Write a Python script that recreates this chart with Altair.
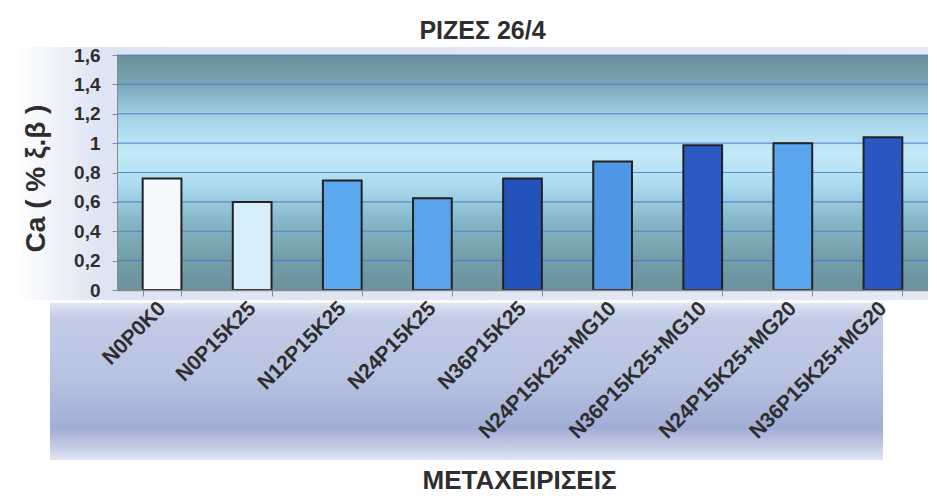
import altair as alt
import pandas as pd

categories = ["N0P0K0", "N0P15K25", "N12P15K25", "N24P15K25", "N36P15K25",
              "N24P15K25+MG10", "N36P15K25+MG10", "N24P15K25+MG20", "N36P15K25+MG20"]
values = [0.76, 0.60, 0.745, 0.625, 0.76, 0.875, 0.985, 1.00, 1.04]
bar_colors = ["#f4f8fc", "#d9eefb", "#5aa9ef", "#5aa2ec", "#2452bb",
              "#4f97e6", "#2c5ac4", "#5aa6ee", "#2a56c2"]
y_ticks = [0, 0.2, 0.4, 0.6, 0.8, 1.0, 1.2, 1.4, 1.6]
grid_values = [0.2, 0.4, 0.6, 0.8, 1.0, 1.2, 1.4, 1.6]

W, H = 811, 235
FONT = "Liberation Sans, Arial, sans-serif"
TXT = "#2e2e2e"

df = pd.DataFrame({"cat": categories, "val": values})
grid_df = pd.DataFrame({"v": grid_values})
one = alt.Data(values=[{"a": 1}])

y_scale = alt.Scale(domain=[0, 1.6], nice=False)
y_axis = alt.Axis(title="Ca ( % ξ.β )", values=y_ticks,
                  labelExpr="replace(format(datum.value, '.1~f'), '.', ',')",
                  labelFont=FONT, labelFontSize=19, labelFontWeight="bold",
                  labelColor=TXT, labelPadding=12, tickSize=5, tickColor="#8a8a8a",
                  domainColor="#8a8a8a", grid=False, zindex=1,
                  titleFont=FONT, titleFontSize=28, titleFontWeight="bold",
                  titleColor=TXT, titleAngle=-90, titleX=-73, titleY=123,
                  titleAlign="center", titleBaseline="alphabetic")

# soft decorative backdrop around the plot and behind the category labels
glow = alt.Chart(one).mark_rect(
    color=alt.LinearGradient(
        gradient="linear", x1=0, y1=0, x2=1, y2=0,
        stops=[alt.GradientStop(offset=0, color="#ffffff"),
               alt.GradientStop(offset=0.09, color="#dde4f3"),
               alt.GradientStop(offset=1, color="#e4e9f5")]),
).encode(x=alt.value(-100), x2=alt.value(W), y=alt.value(-8), y2=alt.value(245))

band = alt.Chart(one).mark_rect(
    color=alt.LinearGradient(
        gradient="linear", x1=0, y1=0, x2=0, y2=1,
        stops=[alt.GradientStop(offset=0, color="#dfe5f3"),
               alt.GradientStop(offset=0.1, color="#c2cbe6"),
               alt.GradientStop(offset=0.45, color="#b9c4e2"),
               alt.GradientStop(offset=0.8, color="#a1add5"),
               alt.GradientStop(offset=1, color="#dfe4f1")]),
).encode(x=alt.value(-67), x2=alt.value(W - 45), y=alt.value(248), y2=alt.value(405))

plot_bg = alt.Chart(one).mark_rect(
    color=alt.LinearGradient(
        gradient="linear", x1=0, y1=0, x2=0, y2=1,
        stops=[alt.GradientStop(offset=0, color="#6a8e98"),
               alt.GradientStop(offset=0.12, color="#7aa6b6"),
               alt.GradientStop(offset=0.27, color="#a4d4ea"),
               alt.GradientStop(offset=0.42, color="#c4eaf8"),
               alt.GradientStop(offset=0.55, color="#acdcf0"),
               alt.GradientStop(offset=0.7, color="#86b8ca"),
               alt.GradientStop(offset=0.85, color="#74a0aa"),
               alt.GradientStop(offset=1, color="#6c929c")]),
).encode(x=alt.value(0), x2=alt.value(W), y=alt.value(0), y2=alt.value(H))

rules = alt.Chart(grid_df).mark_rule(color="#4a7ccc", strokeWidth=1.2, opacity=0.85).encode(
    y=alt.Y("v:Q", axis=y_axis, scale=y_scale),
    x=alt.value(0), x2=alt.value(W),
)

bars = alt.Chart(df).mark_bar(stroke="#222222", strokeWidth=2).encode(
    x=alt.X("cat:N", sort=categories,
            scale=alt.Scale(paddingInner=0.57, paddingOuter=0.285),
            axis=alt.Axis(title="ΜΕΤΑΧΕΙΡΙΣΕΙΣ", labelAngle=-45, labelAlign="right",
                          labelBaseline="middle", labelPadding=9, labelFont=FONT,
                          labelFontSize=21, labelFontWeight="bold", labelColor=TXT,
                          labelLimit=0, labelOverlap=False,
                          tickBand="extent", tickSize=6, tickColor="#8a8a8a",
                          domainColor="#8a8a8a", domainWidth=1.5, zindex=1,
                          titleFont=FONT, titleFontSize=26, titleFontWeight="bold",
                          titleColor=TXT, titleX=402, titleY=198, titleAlign="center",
                          titleBaseline="alphabetic")),
    y=alt.Y("val:Q", scale=y_scale, axis=y_axis),
    color=alt.Color("cat:N", scale=alt.Scale(domain=categories, range=bar_colors), legend=None),
)

chart = alt.layer(glow, band, plot_bg, rules, bars).properties(
    width=W, height=H,
    title=alt.TitleParams("ΡΙΖΕΣ 26/4", font=FONT, fontSize=25, fontWeight="bold",
                          color=TXT, anchor="middle", dx=-40, dy=29, offset=11,
                          baseline="alphabetic"),
    autosize=alt.AutoSizeParams(type="none"),
    padding={"left": 109, "top": 47, "right": 0, "bottom": 203},
    background="white",
).configure_view(stroke=None)

chart.save("out.html", embed_options={"renderer": "svg", "actions": False})
